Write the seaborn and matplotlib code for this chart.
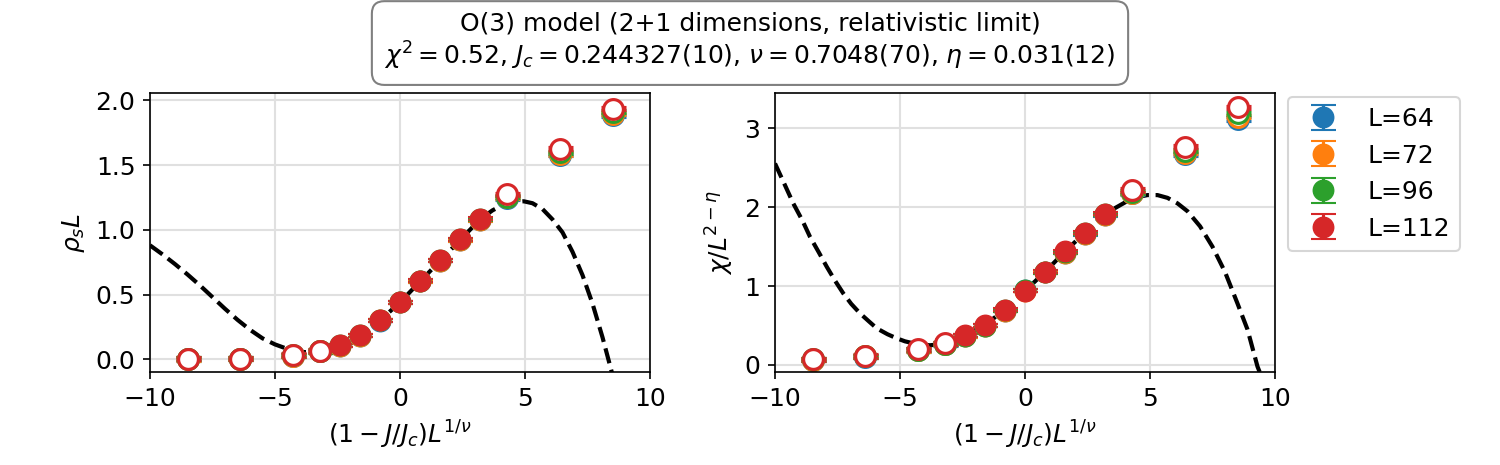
import matplotlib
matplotlib.use('Agg')
import matplotlib.pyplot as plt
import seaborn as sns

# scaled coupling (1 - J/Jc) L^(1/nu), same for all sizes
x_scaled = [-8.5, -6.4, -4.27, -3.2, -2.4, -1.6, -0.8, 0.0, 0.8, 1.6, 2.4, 3.2, 4.27, 6.4, 8.5]
sizes = [64, 72, 96, 112]

# rho_s * L for each L
rho_64 = [0.002, 0.003, 0.027, 0.061, 0.105, 0.182, 0.299, 0.44, 0.603, 0.76, 0.918, 1.072, 1.245, 1.58, 1.885]
rho_72 = [0.002, 0.003, 0.028, 0.062, 0.106, 0.183, 0.30, 0.44, 0.603, 0.76, 0.92, 1.075, 1.25, 1.585, 1.895]
rho_96 = [0.003, 0.004, 0.030, 0.064, 0.108, 0.185, 0.30, 0.44, 0.605, 0.765, 0.925, 1.08, 1.255, 1.60, 1.91]
rho_112 = [0.005, 0.005, 0.033, 0.066, 0.110, 0.185, 0.30, 0.44, 0.605, 0.765, 0.925, 1.085, 1.275, 1.625, 1.935]

# chi / L^(2-eta) for each L
chi_64 = [0.067, 0.107, 0.19, 0.267, 0.367, 0.497, 0.69, 0.95, 1.175, 1.425, 1.66, 1.90, 2.18, 2.67, 3.12]
chi_72 = [0.068, 0.108, 0.19, 0.268, 0.368, 0.498, 0.69, 0.94, 1.175, 1.425, 1.665, 1.905, 2.185, 2.69, 3.15]
chi_96 = [0.070, 0.110, 0.195, 0.27, 0.37, 0.50, 0.695, 0.945, 1.18, 1.43, 1.67, 1.91, 2.195, 2.72, 3.19]
chi_112 = [0.072, 0.114, 0.20, 0.275, 0.375, 0.505, 0.70, 0.94, 1.185, 1.44, 1.68, 1.92, 2.22, 2.77, 3.27]

rho_err = 0.012
chi_err = 0.02

# fit window (points outside are drawn open)
fit_min, fit_max = -3.0, 4.0

# fitted scaling functions
rho_fit_x = [-10, -9.5, -9, -8.5, -8, -7.5, -7, -6.5, -6, -5.5, -5, -4.5, -4, -3.5, -3,
             -2.4, -1.6, -0.8, 0, 0.8, 1.6, 2.4, 3.2, 3.7, 4.2, 4.6, 4.95, 5.3, 5.7,
             6.1, 6.5, 6.9, 7.3, 7.7, 8.1, 8.5]
rho_fit_y = [0.88, 0.81, 0.735, 0.655, 0.57, 0.48, 0.39, 0.305, 0.228, 0.162, 0.115, 0.08, 0.058, 0.052, 0.066,
             0.11, 0.19, 0.30, 0.44, 0.60, 0.76, 0.92, 1.08, 1.15, 1.20, 1.215, 1.22, 1.205, 1.16,
             1.08, 0.98, 0.83, 0.65, 0.43, 0.17, -0.12]
chi_fit_x = [-10, -9.6, -9.27, -8.9, -8.6, -8.25, -7.93, -7.6, -7.27, -6.95, -6.6, -6.25, -5.93, -5.5, -5.13,
             -4.8, -4.47, -4.1, -3.8, -3.2, -2.4, -1.6, -0.8, 0, 0.8, 1.6, 2.4, 3.2, 3.6, 4.1, 4.5,
             4.9, 5.3, 5.7, 6.1, 6.5, 7.0, 7.5, 8.0, 8.5, 8.9, 9.3, 9.4]
chi_fit_y = [2.556, 2.28, 2.05, 1.83, 1.626, 1.43, 1.246, 1.07, 0.909, 0.775, 0.655, 0.555, 0.465, 0.39, 0.338,
             0.30, 0.275, 0.257, 0.25, 0.27, 0.37, 0.51, 0.70, 0.94, 1.18, 1.44, 1.68, 1.92, 1.99, 2.08, 2.13,
             2.155, 2.155, 2.12, 2.05, 1.95, 1.76, 1.50, 1.18, 0.78, 0.45, -0.02, -0.1]

sns.set_theme(style='ticks', rc={
    'font.size': 12, 'axes.labelsize': 12, 'xtick.labelsize': 12, 'ytick.labelsize': 12,
    'legend.fontsize': 12, 'axes.edgecolor': 'black', 'xtick.color': 'black', 'ytick.color': 'black',
    'text.color': 'black', 'axes.labelcolor': 'black', 'axes.grid': True,
    'grid.color': '#e0e0e0', 'grid.linewidth': 1.0, 'axes.linewidth': 0.8,
    'mathtext.fontset': 'dejavusans',
})
plt.rcParams['font.family'] = ['DejaVu Sans']
colors = sns.color_palette('tab10')[:4]

fig, (ax1, ax2) = plt.subplots(1, 2, figsize=(10, 3.1), dpi=150)
fig.subplots_adjust(left=0.1, right=0.85, bottom=0.2, top=0.8, wspace=0.25)

sns.lineplot(x=rho_fit_x, y=rho_fit_y, ax=ax1, color='black', linestyle='--', linewidth=2)
sns.lineplot(x=chi_fit_x, y=chi_fit_y, ax=ax2, color='black', linestyle='--', linewidth=2)


def draw(ax, ys, err, label):
    for L, y, c in zip(sizes, ys, colors):
        xin = [x for x in x_scaled if fit_min <= x <= fit_max]
        yin = [v for x, v in zip(x_scaled, y) if fit_min <= x <= fit_max]
        xout = [x for x in x_scaled if not fit_min <= x <= fit_max]
        yout = [v for x, v in zip(x_scaled, y) if not fit_min <= x <= fit_max]
        ax.errorbar(xin, yin, yerr=err, fmt='o', color=c, ms=9.5, capsize=6,
                    label=f'L={L}' if label else None)
        ax.errorbar(xout, yout, yerr=err, fmt='o', color=c, mfc='white', mec=c,
                    mew=1.5, ms=9.5, capsize=6)


draw(ax1, [rho_64, rho_72, rho_96, rho_112], rho_err, False)
draw(ax2, [chi_64, chi_72, chi_96, chi_112], chi_err, True)

ax1.set_xlim(-10, 10)
ax1.set_ylim(-0.098, 2.056)
ax1.set_yticks([0.0, 0.5, 1.0, 1.5, 2.0])
ax1.set_ylabel(r'$\rho_s L$')
ax1.set_xlabel(r'$(1 - J/J_c)L^{1/\nu}$')

ax2.set_xlim(-10, 10)
ax2.set_ylim(-0.089, 3.45)
ax2.set_yticks([0, 1, 2, 3])
ax2.set_ylabel(r'$\chi / L^{2-\eta}$')
ax2.set_xlabel(r'$(1 - J/J_c)L^{1/\nu}$')

for ax in (ax1, ax2):
    ax.set_xticks([-10, -5, 0, 5, 10])
    ax.tick_params(direction='out', length=3.5, width=0.8)

ax2.legend(loc='upper left', bbox_to_anchor=(1.0, 1.03))

fig.text(0.5, 0.91,
         'O(3) model (2+1 dimensions, relativistic limit)\n'
         r'$\chi^2 = 0.52$, $J_c = 0.244327(10)$, $\nu = 0.7048(70)$, $\eta = 0.031(12)$',
         ha='center', va='center', fontsize=12, multialignment='center',
         bbox=dict(boxstyle='round,pad=0.5', fc='white', ec='#808080', lw=1))

fig.savefig('out.png', dpi=150)
